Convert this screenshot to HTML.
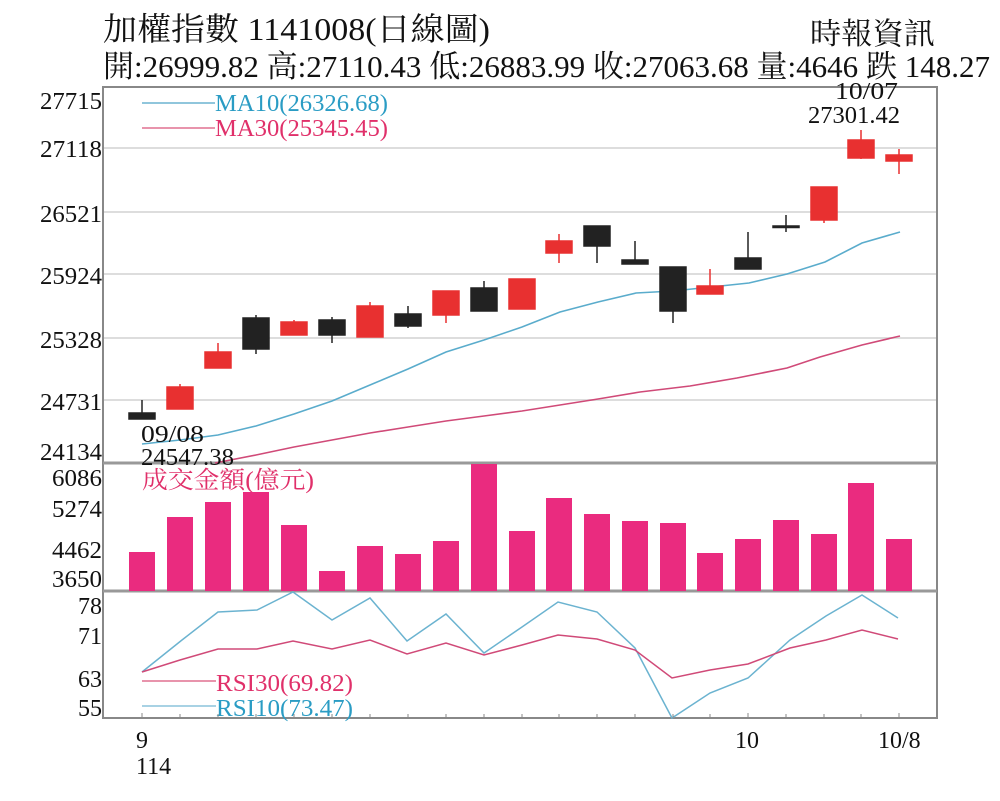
<!DOCTYPE html>
<html><head><meta charset="utf-8"><style>
body{margin:0;background:#fff}
svg{display:block}
text{font-family:"Liberation Serif","Noto Serif CJK SC","Noto Sans CJK TC",serif}
</style></head><body>
<svg width="1000" height="801" viewBox="0 0 1000 801" xmlns="http://www.w3.org/2000/svg">
<rect width="1000" height="801" fill="#fff"/>
<text x="103" y="40" font-size="32" textLength="387" lengthAdjust="spacingAndGlyphs" fill="#111">加權指數 1141008(日線圖)</text>
<text x="810" y="44" font-size="30" textLength="125" lengthAdjust="spacingAndGlyphs" fill="#111">時報資訊</text>
<text x="103" y="77" font-size="31" textLength="887" lengthAdjust="spacingAndGlyphs" fill="#111">開:26999.82 高:27110.43 低:26883.99 收:27063.68 量:4646 跌 148.27</text>
<g stroke="#ddd" stroke-width="2">
<line x1="103" y1="148" x2="937" y2="148"/><line x1="103" y1="212" x2="937" y2="212"/>
<line x1="103" y1="274" x2="937" y2="274"/><line x1="103" y1="338" x2="937" y2="338"/>
<line x1="103" y1="400" x2="937" y2="400"/>
</g>
<rect x="103" y="87" width="834" height="631" fill="none" stroke="#888" stroke-width="2"/>
<line x1="103" y1="463" x2="937" y2="463" stroke="#999" stroke-width="3"/>
<line x1="103" y1="591" x2="937" y2="591" stroke="#999" stroke-width="3"/>
<g font-size="24" text-anchor="end" fill="#111" lengthAdjust="spacingAndGlyphs">
<text x="102" y="109" textLength="62" lengthAdjust="spacingAndGlyphs">27715</text><text x="102" y="157" textLength="62" lengthAdjust="spacingAndGlyphs">27118</text><text x="102" y="222" textLength="62" lengthAdjust="spacingAndGlyphs">26521</text>
<text x="102" y="284" textLength="62" lengthAdjust="spacingAndGlyphs">25924</text><text x="102" y="348" textLength="62" lengthAdjust="spacingAndGlyphs">25328</text><text x="102" y="410" textLength="62" lengthAdjust="spacingAndGlyphs">24731</text>
<text x="102" y="460" textLength="62" lengthAdjust="spacingAndGlyphs">24134</text>
<text x="102" y="486" textLength="50" lengthAdjust="spacingAndGlyphs">6086</text><text x="102" y="517" textLength="50" lengthAdjust="spacingAndGlyphs">5274</text><text x="102" y="558" textLength="50" lengthAdjust="spacingAndGlyphs">4462</text><text x="102" y="587" textLength="50" lengthAdjust="spacingAndGlyphs">3650</text>
<text x="102" y="614">78</text><text x="102" y="644">71</text><text x="102" y="687">63</text><text x="102" y="716">55</text>
</g>
<line x1="142" y1="103" x2="215" y2="103" stroke="#6bb3d0" stroke-width="1.5"/>
<text x="215" y="111" font-size="24" fill="#2a9cc4" textLength="173" lengthAdjust="spacingAndGlyphs">MA10(26326.68)</text>
<line x1="142" y1="128" x2="215" y2="128" stroke="#e07090" stroke-width="1.5"/>
<text x="215" y="136" font-size="24" fill="#e0306a" textLength="173" lengthAdjust="spacingAndGlyphs">MA30(25345.45)</text>
<polyline fill="none" stroke="#5aaccc" stroke-width="1.6" points="142,444 180,440 218,435 256,426 294,414 332,401 370,385 408,369 446,352 484,340 522,327 560,312 598,302 636,293 673,291 711,287 749,283 787,274 825,262 862,243 900,232"/>
<polyline fill="none" stroke="#d04a78" stroke-width="1.6" points="215,463 256,455 294,447 332,440 370,433 408,427 446,421 484,416 522,411 560,405 598,399 640,392 690,386 737,378 787,368 820,357 862,345 900,336"/>
<g stroke-width="1.5">
<g stroke="#222" fill="#222"><line x1="142" y1="400" x2="142" y2="413"/><rect x="129" y="413" width="26" height="6"/></g>
<g stroke="#e83030" fill="#e83030"><line x1="180" y1="384" x2="180" y2="409"/><rect x="167" y="387" width="26" height="22"/></g>
<g stroke="#e83030" fill="#e83030"><line x1="218" y1="343" x2="218" y2="368"/><rect x="205" y="352" width="26" height="16"/></g>
<g stroke="#222" fill="#222"><line x1="256" y1="315" x2="256" y2="354"/><rect x="243" y="318" width="26" height="31"/></g>
<g stroke="#e83030" fill="#e83030"><line x1="294" y1="320" x2="294" y2="335"/><rect x="281" y="322" width="26" height="13"/></g>
<g stroke="#222" fill="#222"><line x1="332" y1="317" x2="332" y2="343"/><rect x="319" y="320" width="26" height="15"/></g>
<g stroke="#e83030" fill="#e83030"><line x1="370" y1="302" x2="370" y2="337"/><rect x="357" y="306" width="26" height="31"/></g>
<g stroke="#222" fill="#222"><line x1="408" y1="306" x2="408" y2="328"/><rect x="395" y="314" width="26" height="12"/></g>
<g stroke="#e83030" fill="#e83030"><line x1="446" y1="291" x2="446" y2="323"/><rect x="433" y="291" width="26" height="24"/></g>
<g stroke="#222" fill="#222"><line x1="484" y1="281" x2="484" y2="311"/><rect x="471" y="288" width="26" height="23"/></g>
<g stroke="#e83030" fill="#e83030"><line x1="522" y1="279" x2="522" y2="309"/><rect x="509" y="279" width="26" height="30"/></g>
<g stroke="#e83030" fill="#e83030"><line x1="559" y1="234" x2="559" y2="263"/><rect x="546" y="241" width="26" height="12"/></g>
<g stroke="#222" fill="#222"><line x1="597" y1="226" x2="597" y2="263"/><rect x="584" y="226" width="26" height="20"/></g>
<g stroke="#222" fill="#222"><line x1="635" y1="241" x2="635" y2="264"/><rect x="622" y="260" width="26" height="4"/></g>
<g stroke="#222" fill="#222"><line x1="673" y1="267" x2="673" y2="323"/><rect x="660" y="267" width="26" height="44"/></g>
<g stroke="#e83030" fill="#e83030"><line x1="710" y1="269" x2="710" y2="294"/><rect x="697" y="286" width="26" height="8"/></g>
<g stroke="#222" fill="#222"><line x1="748" y1="232" x2="748" y2="269"/><rect x="735" y="258" width="26" height="11"/></g>
<g stroke="#222" fill="#222"><line x1="786" y1="215" x2="786" y2="232"/><rect x="773" y="226" width="26" height="1.5"/></g>
<g stroke="#e83030" fill="#e83030"><line x1="824" y1="187" x2="824" y2="223"/><rect x="811" y="187" width="26" height="33"/></g>
<g stroke="#e83030" fill="#e83030"><line x1="861" y1="130" x2="861" y2="159"/><rect x="848" y="140" width="26" height="18"/></g>
<g stroke="#e83030" fill="#e83030"><line x1="899" y1="149" x2="899" y2="174"/><rect x="886" y="155" width="26" height="6"/></g>
</g>
<g font-size="24" fill="#111">
<text x="141" y="442" textLength="63" lengthAdjust="spacingAndGlyphs">09/08</text><text x="141" y="465" textLength="93" lengthAdjust="spacingAndGlyphs">24547.38</text>
<text x="835" y="99" textLength="63" lengthAdjust="spacingAndGlyphs">10/07</text><text x="808" y="123" textLength="92" lengthAdjust="spacingAndGlyphs">27301.42</text>
</g>
<text x="142" y="488" font-size="24" fill="#e0306a" textLength="172" lengthAdjust="spacingAndGlyphs">成交金額(億元)</text>
<g fill="#ea2b7f">
<rect x="129" y="552" width="26" height="39"/><rect x="167" y="517" width="26" height="74"/>
<rect x="205" y="502" width="26" height="89"/><rect x="243" y="492" width="26" height="99"/>
<rect x="281" y="525" width="26" height="66"/><rect x="319" y="571" width="26" height="20"/>
<rect x="357" y="546" width="26" height="45"/><rect x="395" y="554" width="26" height="37"/>
<rect x="433" y="541" width="26" height="50"/><rect x="471" y="464" width="26" height="127"/>
<rect x="509" y="531" width="26" height="60"/><rect x="546" y="498" width="26" height="93"/>
<rect x="584" y="514" width="26" height="77"/><rect x="622" y="521" width="26" height="70"/>
<rect x="660" y="523" width="26" height="68"/><rect x="697" y="553" width="26" height="38"/>
<rect x="735" y="539" width="26" height="52"/><rect x="773" y="520" width="26" height="71"/>
<rect x="811" y="534" width="26" height="57"/><rect x="848" y="483" width="26" height="108"/>
<rect x="886" y="539" width="26" height="52"/>
</g>
<polyline fill="none" stroke="#6bb3d0" stroke-width="1.5" points="142,672 182,640 218,612 257,610 293,592 332,620 370,598 407,641 446,614 484,653 522,627 558,602 597,612 635,648 672,718 710,693 748,678 790,640 826,616 862,595 898,618"/>
<polyline fill="none" stroke="#d04a78" stroke-width="1.5" points="142,672 180,660 218,649 257,649 293,641 332,649 370,640 407,654 446,643 484,655 522,645 558,635 597,639 635,650 672,678 710,670 748,664 790,648 826,640 862,630 898,639"/>
<line x1="142" y1="681" x2="216" y2="681" stroke="#e07090" stroke-width="1.5"/>
<text x="216" y="691" font-size="24" fill="#e0306a" textLength="137" lengthAdjust="spacingAndGlyphs">RSI30(69.82)</text>
<line x1="142" y1="706" x2="216" y2="706" stroke="#8cc4dc" stroke-width="1.5"/>
<text x="216" y="716" font-size="24" fill="#2a9cc4" textLength="137" lengthAdjust="spacingAndGlyphs">RSI10(73.47)</text>
<g stroke="#888" stroke-width="1">
<line x1="142" y1="718" x2="142" y2="713"/><line x1="180" y1="718" x2="180" y2="714"/><line x1="218" y1="718" x2="218" y2="714"/><line x1="256" y1="718" x2="256" y2="714"/><line x1="294" y1="718" x2="294" y2="714"/><line x1="332" y1="718" x2="332" y2="714"/><line x1="370" y1="718" x2="370" y2="714"/><line x1="408" y1="718" x2="408" y2="714"/><line x1="446" y1="718" x2="446" y2="714"/><line x1="484" y1="718" x2="484" y2="714"/><line x1="522" y1="718" x2="522" y2="714"/><line x1="559" y1="718" x2="559" y2="714"/><line x1="597" y1="718" x2="597" y2="714"/><line x1="635" y1="718" x2="635" y2="714"/><line x1="673" y1="718" x2="673" y2="714"/><line x1="710" y1="718" x2="710" y2="714"/><line x1="748" y1="718" x2="748" y2="713"/><line x1="786" y1="718" x2="786" y2="714"/><line x1="824" y1="718" x2="824" y2="714"/><line x1="861" y1="718" x2="861" y2="714"/><line x1="899" y1="718" x2="899" y2="713"/>
</g>
<g font-size="24" fill="#111">
<text x="136" y="748">9</text><text x="136" y="774">114</text>
<text x="735" y="748">10</text><text x="878" y="748">10/8</text>
</g>
</svg>
</body></html>
